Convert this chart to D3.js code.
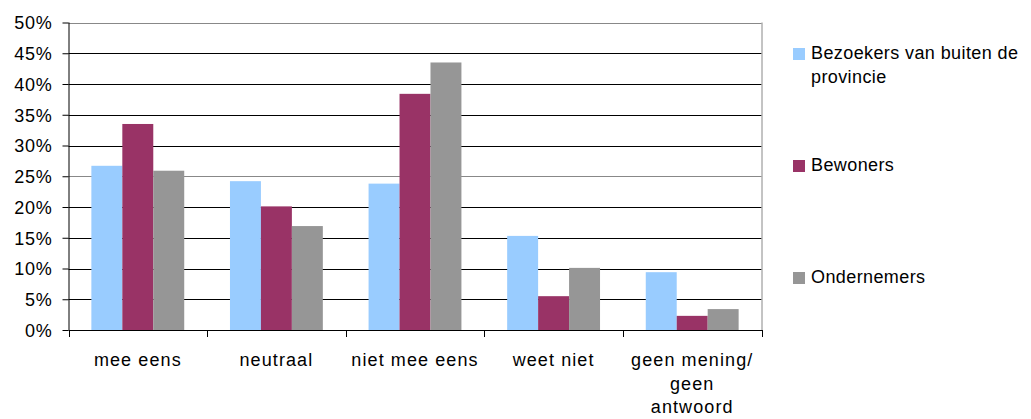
<!DOCTYPE html>
<html>
<head>
<meta charset="utf-8">
<script src="https://cdn.jsdelivr.net/npm/d3@7"></script>
<style>
  html, body { margin: 0; padding: 0; background: #fff; }
  svg { display: block; }
  text { font-family: "Liberation Sans", Arial, sans-serif; fill: #000; }
</style>
</head>
<body>
<svg id="chart" width="1031" height="419"></svg>
<script>
const categories = ["mee eens", "neutraal", "niet mee eens", "weet niet", "geen mening/ geen antwoord"];
const categoryLines = [["mee eens"], ["neutraal"], ["niet mee eens"], ["weet niet"], ["geen mening/", "geen", "antwoord"]];
const seriesNames = ["Bezoekers van buiten de provincie", "Bewoners", "Ondernemers"];
const legendLines = [["Bezoekers van buiten de", "provincie"], ["Bewoners"], ["Ondernemers"]];
const bezoekers = [26.7, 24.2, 23.8, 15.3, 9.4];
const bewoners = [33.5, 20.1, 38.4, 5.5, 2.3];
const ondernemers = [25.9, 16.9, 43.5, 10.1, 3.4];
const seriesColors = ["#99CCFF", "#993366", "#969696"];
const yTicks = [0, 5, 10, 15, 20, 25, 30, 35, 40, 45, 50];

const seriesValues = [bezoekers, bewoners, ondernemers];

const svg = d3.select("#chart");
const pLeft = 68.5, pRight = 761.5, pTop = 22.5, pBottom = 330;

const x = d3.scaleBand().domain(categories).range([pLeft, pRight]).paddingInner(0.33).paddingOuter(0.165);
const xs = d3.scaleBand().domain(seriesNames).range([0, x.bandwidth()]);
const y = d3.scaleLinear().domain([0, 50]).range([pBottom, pTop]);

// gridlines
svg.append("g").selectAll("line").data(yTicks.filter(t => t > 0)).join("line")
  .attr("x1", pLeft).attr("x2", pRight)
  .attr("y1", d => Math.round(y(d)) + 0.5).attr("y2", d => Math.round(y(d)) + 0.5)
  .attr("stroke", d => (d === 50 || d === 25) ? "#888" : "#000")
  .attr("stroke-width", 1);

// right border
svg.append("line").attr("x1", pRight + 0.5).attr("x2", pRight + 0.5).attr("y1", pTop).attr("y2", pBottom)
  .attr("stroke", "#888");

// bars
const groups = svg.append("g").selectAll("g").data(categories).join("g")
  .attr("transform", d => `translate(${x(d)},0)`);
groups.selectAll("rect").data((d, i) => seriesNames.map((s, j) => ({ s, v: seriesValues[j][i], j })))
  .join("rect")
  .attr("x", d => xs(d.s)).attr("width", xs.bandwidth())
  .attr("y", d => y(d.v)).attr("height", d => pBottom - y(d.v))
  .attr("fill", d => seriesColors[d.j]);

// y axis
const yAxis = d3.axisLeft(y).tickValues(yTicks).tickFormat(d => d + "%").tickSize(6).tickPadding(10);
const yg = svg.append("g").attr("transform", `translate(${pLeft},0)`).call(yAxis);
yg.select(".domain").attr("stroke", "#000").attr("d", `M0.5,${pTop}V${pBottom}`);
yg.selectAll(".tick line").attr("stroke", "#000");
yg.selectAll(".tick text").attr("font-size", 18).attr("letter-spacing", "0.7px")
  .attr("font-family", "'Liberation Sans', Arial, sans-serif").attr("fill", "#000").attr("dy", "0.36em");

// x axis line and boundary ticks
svg.append("line").attr("x1", pLeft).attr("x2", pRight + 1).attr("y1", pBottom + 0.5).attr("y2", pBottom + 0.5).attr("stroke", "#000");
const boundaries = categories.map(c => x(c) - x.step() * x.paddingInner() / 2).concat([pRight]);
boundaries[0] = pLeft;
svg.append("g").selectAll("line").data(boundaries).join("line")
  .attr("x1", d => Math.round(d) + 0.5).attr("x2", d => Math.round(d) + 0.5)
  .attr("y1", pBottom).attr("y2", pBottom + 7).attr("stroke", "#000");

// x labels
const xl = svg.append("g").selectAll("text").data(categories).join("text")
  .attr("text-anchor", "middle").attr("font-size", 18).attr("letter-spacing", "1.1px")
  .attr("transform", d => `translate(${x(d) + x.bandwidth() / 2},366)`);
xl.selectAll("tspan").data((d, i) => categoryLines[i]).join("tspan")
  .attr("x", 0).attr("y", (d, i) => i * 23.5).text(d => d);

// legend
const legendY = [48, 160, 272];
const lg = svg.append("g").selectAll("g").data(seriesNames).join("g")
  .attr("transform", (d, i) => `translate(793,${legendY[i]})`);
lg.append("rect").attr("width", 12).attr("height", 12).attr("fill", (d, i) => seriesColors[i]);
const lt = lg.append("text").attr("x", 18).attr("y", 10).attr("font-size", 18).attr("letter-spacing", "0.4px");
lt.selectAll("tspan").data((d, i) => legendLines[i]).join("tspan")
  .attr("x", 18).attr("y", (d, i) => 10.5 + i * 24).text(d => d);
</script>
</body>
</html>
